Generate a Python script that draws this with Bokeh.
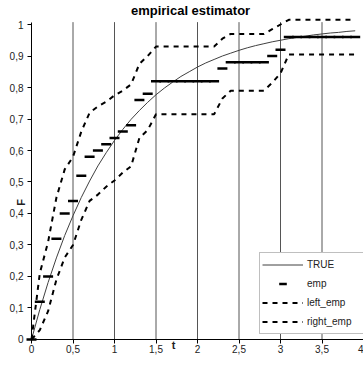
import math
from bokeh.plotting import figure
from bokeh.models import (Range1d, FixedTicker, Legend, LegendItem, Label,
                          ColumnDataSource, CustomJSTickFormatter)
from bokeh.embed import file_html
from bokeh.resources import INLINE

# ---- data ----
t = [0.0, 0.1, 0.2, 0.3, 0.4, 0.5, 0.6, 0.7, 0.8, 0.9,
     1.0, 1.1, 1.2, 1.3, 1.4, 1.5, 1.6, 1.7, 1.8, 1.9,
     2.0, 2.1, 2.2, 2.3, 2.4, 2.5, 2.6, 2.7, 2.8, 2.9,
     3.0, 3.1, 3.2, 3.3, 3.4, 3.5, 3.6, 3.7, 3.8, 3.9]
true_F = [0.0, 0.095, 0.181, 0.259, 0.330, 0.393, 0.451, 0.503, 0.551, 0.593,
          0.632, 0.667, 0.699, 0.727, 0.753, 0.777, 0.798, 0.817, 0.835, 0.850,
          0.865, 0.878, 0.889, 0.900, 0.909, 0.918, 0.926, 0.933, 0.939, 0.945,
          0.950, 0.955, 0.959, 0.963, 0.967, 0.970, 0.973, 0.975, 0.978, 0.980]
emp = [0.0, 0.12, 0.20, 0.32, 0.40, 0.44, 0.52, 0.58, 0.60, 0.62,
       0.64, 0.66, 0.68, 0.76, 0.78, 0.82, 0.82, 0.82, 0.82, 0.82,
       0.82, 0.82, 0.82, 0.86, 0.88, 0.88, 0.88, 0.88, 0.88, 0.90,
       0.92, 0.96, 0.96, 0.96, 0.96, 0.96, 0.96, 0.96, 0.96, 0.96]
left_emp = [0.0, 0.03, 0.09, 0.19, 0.26, 0.30, 0.38, 0.44, 0.46, 0.485,
            0.505, 0.53, 0.55, 0.64, 0.665, 0.715, 0.715, 0.715, 0.715, 0.715,
            0.715, 0.715, 0.715, 0.765, 0.79, 0.79, 0.79, 0.79, 0.79, 0.815,
            0.845, 0.905, 0.905, 0.905, 0.905, 0.905, 0.905, 0.905, 0.905, 0.905]
right_emp = [0.0, 0.21, 0.31, 0.45, 0.54, 0.58, 0.66, 0.72, 0.74, 0.755,
             0.775, 0.79, 0.81, 0.875, 0.90, 0.93, 0.93, 0.93, 0.93, 0.93,
             0.93, 0.93, 0.93, 0.955, 0.97, 0.97, 0.97, 0.97, 0.97, 0.985,
             1.0, 1.015, 1.015, 1.015, 1.015, 1.015, 1.015, 1.015, 1.015, 1.015]

x_ticks = [0, 0.5, 1, 1.5, 2, 2.5, 3, 3.5, 4]
x_tick_labels = ["0", "0,5", "1", "1,5", "2", "2,5", "3", "3,5", "4"]
y_ticks = [0, 0.1, 0.2, 0.3, 0.4, 0.5, 0.6, 0.7, 0.8, 0.9, 1]
y_tick_labels = ["0", "0,1", "0,2", "0,3", "0,4", "0,5", "0,6", "0,7", "0,8", "0,9", "1"]

title_text = "empirical estimator"
x_label = "t"
y_label = "F"

FONT = "Liberation Sans"
Y_TOP = 1.0075  # top of the plot area

src = ColumnDataSource(dict(t=t, true_F=true_F, emp=emp,
                            left_emp=left_emp, right_emp=right_emp))
grid_src = ColumnDataSource(dict(x=x_ticks[1:-1]))

# the frame covers the whole canvas; axes are pinned at 0 inside it
p = figure(width=363, height=367,
           x_range=Range1d(-0.3735, 4.0), y_range=Range1d(-0.0889, 1.0762),
           output_backend="svg", toolbar_location=None,
           min_border_left=0, min_border_right=0, min_border_top=0,
           min_border_bottom=0)
p.outline_line_color = None
p.background_fill_color = "white"
p.border_fill_color = "white"
p.xgrid.visible = False
p.ygrid.visible = False

fmt_code = """
for (let i = 0; i < tvals.length; i++) {
  if (Math.abs(tvals[i] - tick) < 1e-9) { return tlabels[i]; }
}
return "";
"""

for ax, tk, lb in ((p.xaxis[0], x_ticks, x_tick_labels),
                   (p.yaxis[0], y_ticks, y_tick_labels)):
    ax.ticker = FixedTicker(ticks=tk)
    ax.formatter = CustomJSTickFormatter(args=dict(tvals=tk, tlabels=lb), code=fmt_code)
    ax.fixed_location = 0
    ax.minor_tick_line_color = None
    ax.major_tick_in = 0
    ax.major_tick_out = 4
    ax.axis_line_color = "black"
    ax.major_tick_line_color = "black"
    ax.major_label_text_font = FONT
    ax.major_label_text_font_size = "10px"
    ax.major_label_text_color = "#222222"
p.xaxis.bounds = (0, 4)
p.yaxis.bounds = (0, Y_TOP)
p.xaxis.major_label_standoff = 2
p.yaxis.major_label_standoff = 4

# vertical grid lines at the x ticks, spanning the plot area only
p.segment(x0="x", y0=0, x1="x", y1=Y_TOP, source=grid_src,
          line_color="#555555", line_width=1)

r_true = p.line("t", "true_F", source=src, line_color="#404040", line_width=1)
r_left = p.line("t", "left_emp", source=src, line_color="black", line_width=2,
                line_dash="5 5")
r_right = p.line("t", "right_emp", source=src, line_color="black", line_width=2,
                 line_dash="5 5")
r_emp = p.scatter("t", "emp", source=src, marker="dash", size=10,
                  line_color="black", line_width=2.5)

legend = Legend(items=[LegendItem(label="TRUE", renderers=[r_true]),
                       LegendItem(label="emp", renderers=[r_emp]),
                       LegendItem(label="left_emp", renderers=[r_left]),
                       LegendItem(label="right_emp", renderers=[r_right])],
                location=(259, 33), margin=0, padding=2, spacing=0,
                glyph_width=41, glyph_height=19, label_height=19,
                label_width=54, label_standoff=4,
                label_text_font=FONT, label_text_font_size="10px",
                label_text_color="#222222",
                border_line_color="#808080", border_line_width=1,
                background_fill_color="white", background_fill_alpha=1.0)
p.add_layout(legend)

p.add_layout(Label(x=1.916, y=1.046, text=title_text, text_font=FONT,
                   text_font_size="13px", text_font_style="bold",
                   text_align="center", text_baseline="middle", text_color="black"))
p.add_layout(Label(x=1.711, y=-0.019, text=x_label, text_font=FONT,
                   text_font_size="11px", text_font_style="bold",
                   text_align="center", text_baseline="middle", text_color="#222222"))
p.add_layout(Label(x=-0.1205, y=0.435, text=y_label, text_font=FONT,
                   text_font_size="11px", text_font_style="bold", angle=math.pi / 2,
                   text_align="center", text_baseline="middle", text_color="#222222"))

open("out.html", "w").write(file_html(p, INLINE))
